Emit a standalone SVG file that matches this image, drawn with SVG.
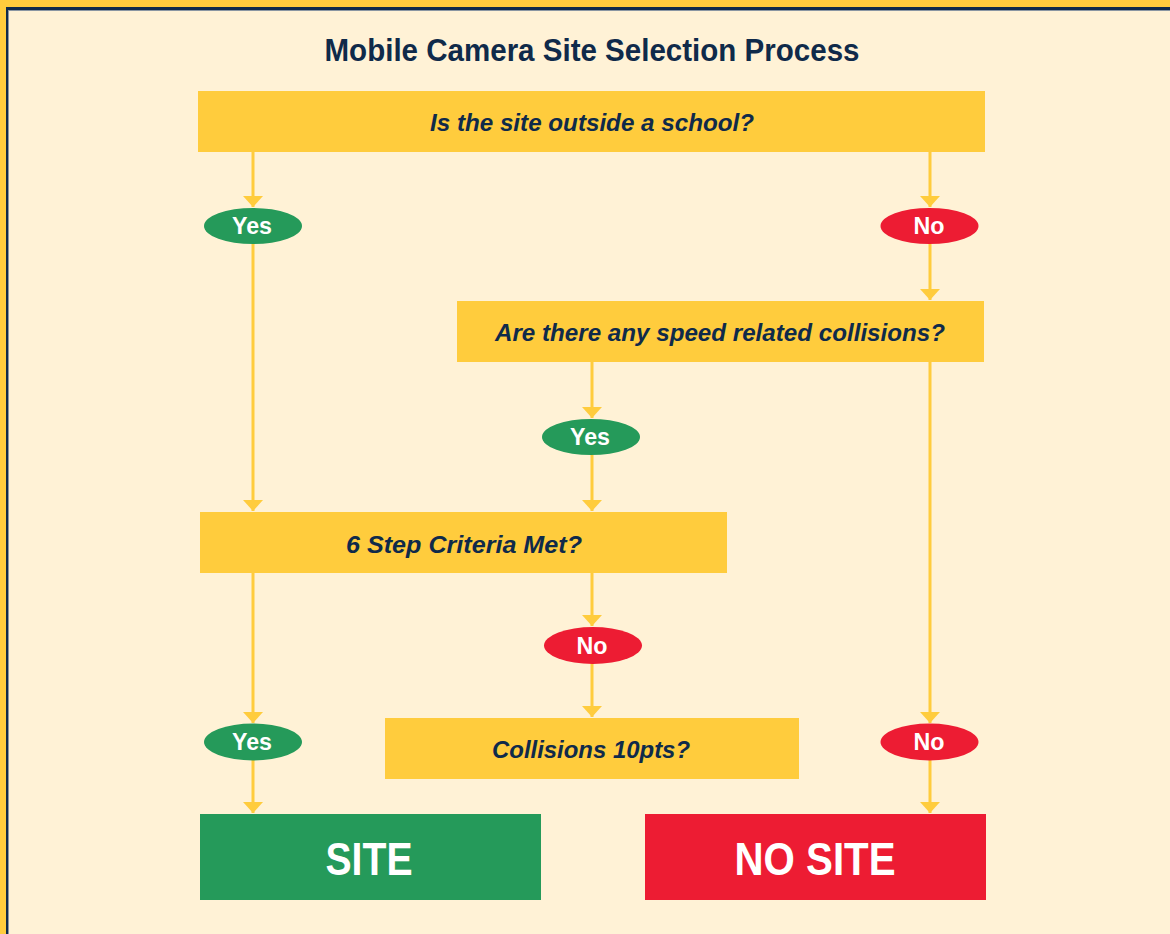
<svg xmlns="http://www.w3.org/2000/svg" width="1170" height="934" viewBox="0 0 1170 934">
<style>
.box{fill:#FFCC3D}
.q{font-family:"Liberation Sans",Arial,sans-serif;font-weight:bold;font-style:italic;font-size:24px;fill:#0F2A4A;text-anchor:middle}
.pill{font-family:"Liberation Sans",Arial,sans-serif;font-weight:bold;font-size:23px;fill:#FFFFFF;text-anchor:middle}
.big{font-family:"Liberation Sans",Arial,sans-serif;font-weight:bold;font-size:46px;fill:#FFFFFF;text-anchor:middle}
.yes{fill:#259A5A}
.no{fill:#ED1C33}
.conn line{stroke:#FFCC3D;stroke-width:3;marker-end:url(#ah)}
</style>
<defs>
<marker id="ah" markerUnits="userSpaceOnUse" markerWidth="12" markerHeight="22" viewBox="0 -11 12 22" refX="11" refY="0" orient="auto">
<path d="M0,-10 L11,0 L0,10 z" fill="#FFCC3D"/>
</marker>
</defs>
<rect x="0" y="0" width="1170" height="934" fill="#FFCC3D"/>
<rect x="6" y="7" width="1200" height="960" fill="#0F2A4A"/>
<rect x="8" y="10" width="1200" height="960" fill="#8A96A3"/>
<rect x="9" y="11" width="1200" height="960" fill="#FFF2D6"/>
<text x="592" y="61" font-family="'Liberation Sans',Arial,sans-serif" font-weight="bold" font-size="32" fill="#0F2A4A" text-anchor="middle" textLength="535" lengthAdjust="spacingAndGlyphs">Mobile Camera Site Selection Process</text>
<g class="conn" id="connectors">
<line x1="253" y1="152" x2="253" y2="207"/>
<line x1="930" y1="152" x2="930" y2="207"/>
<line x1="930" y1="244" x2="930" y2="300"/>
<line x1="253" y1="244" x2="253" y2="511"/>
<line x1="592" y1="362" x2="592" y2="418"/>
<line x1="592" y1="455" x2="592" y2="511"/>
<line x1="253" y1="572" x2="253" y2="723"/>
<line x1="592" y1="572" x2="592" y2="626"/>
<line x1="592" y1="663" x2="592" y2="717"/>
<line x1="930" y1="362" x2="930" y2="723"/>
<line x1="253" y1="760" x2="253" y2="813"/>
<line x1="930" y1="760" x2="930" y2="813"/>
</g>
<g id="q1"><rect class="box" x="198" y="91" width="787" height="61"/><text class="q" x="592" y="131" textLength="324" lengthAdjust="spacingAndGlyphs">Is the site outside a school?</text></g>
<g id="yes1"><ellipse class="yes" cx="253" cy="226" rx="49" ry="18"/><text class="pill" x="252" y="234" textLength="40" lengthAdjust="spacingAndGlyphs">Yes</text></g>
<g id="no1"><ellipse class="no" cx="929.5" cy="226" rx="49" ry="18"/><text class="pill" x="929" y="234" textLength="31" lengthAdjust="spacingAndGlyphs">No</text></g>
<g id="q2"><rect class="box" x="457" y="301" width="527" height="61"/><text class="q" x="720" y="341" textLength="450" lengthAdjust="spacingAndGlyphs">Are there any speed related collisions?</text></g>
<g id="yes2"><ellipse class="yes" cx="591" cy="437" rx="49" ry="18"/><text class="pill" x="590" y="445" textLength="40" lengthAdjust="spacingAndGlyphs">Yes</text></g>
<g id="q3"><rect class="box" x="200" y="512" width="527" height="61"/><text class="q" x="464" y="553" textLength="236" lengthAdjust="spacingAndGlyphs">6 Step Criteria Met?</text></g>
<g id="no2"><ellipse class="no" cx="593" cy="645.5" rx="49" ry="18.5"/><text class="pill" x="592" y="654" textLength="31" lengthAdjust="spacingAndGlyphs">No</text></g>
<g id="q4"><rect class="box" x="385" y="718" width="414" height="61"/><text class="q" x="591" y="758" textLength="198" lengthAdjust="spacingAndGlyphs">Collisions 10pts?</text></g>
<g id="yes3"><ellipse class="yes" cx="253" cy="742" rx="49" ry="18.5"/><text class="pill" x="252" y="750" textLength="40" lengthAdjust="spacingAndGlyphs">Yes</text></g>
<g id="no3"><ellipse class="no" cx="929.5" cy="742" rx="49" ry="18.5"/><text class="pill" x="929" y="750" textLength="31" lengthAdjust="spacingAndGlyphs">No</text></g>
<g id="site"><rect class="yes" x="200" y="814" width="341" height="86"/><text class="big" x="369" y="875" textLength="87" lengthAdjust="spacingAndGlyphs">SITE</text></g>
<g id="nosite"><rect class="no" x="645" y="814" width="341" height="86"/><text class="big" x="815" y="875" textLength="161" lengthAdjust="spacingAndGlyphs">NO SITE</text></g>
</svg>
